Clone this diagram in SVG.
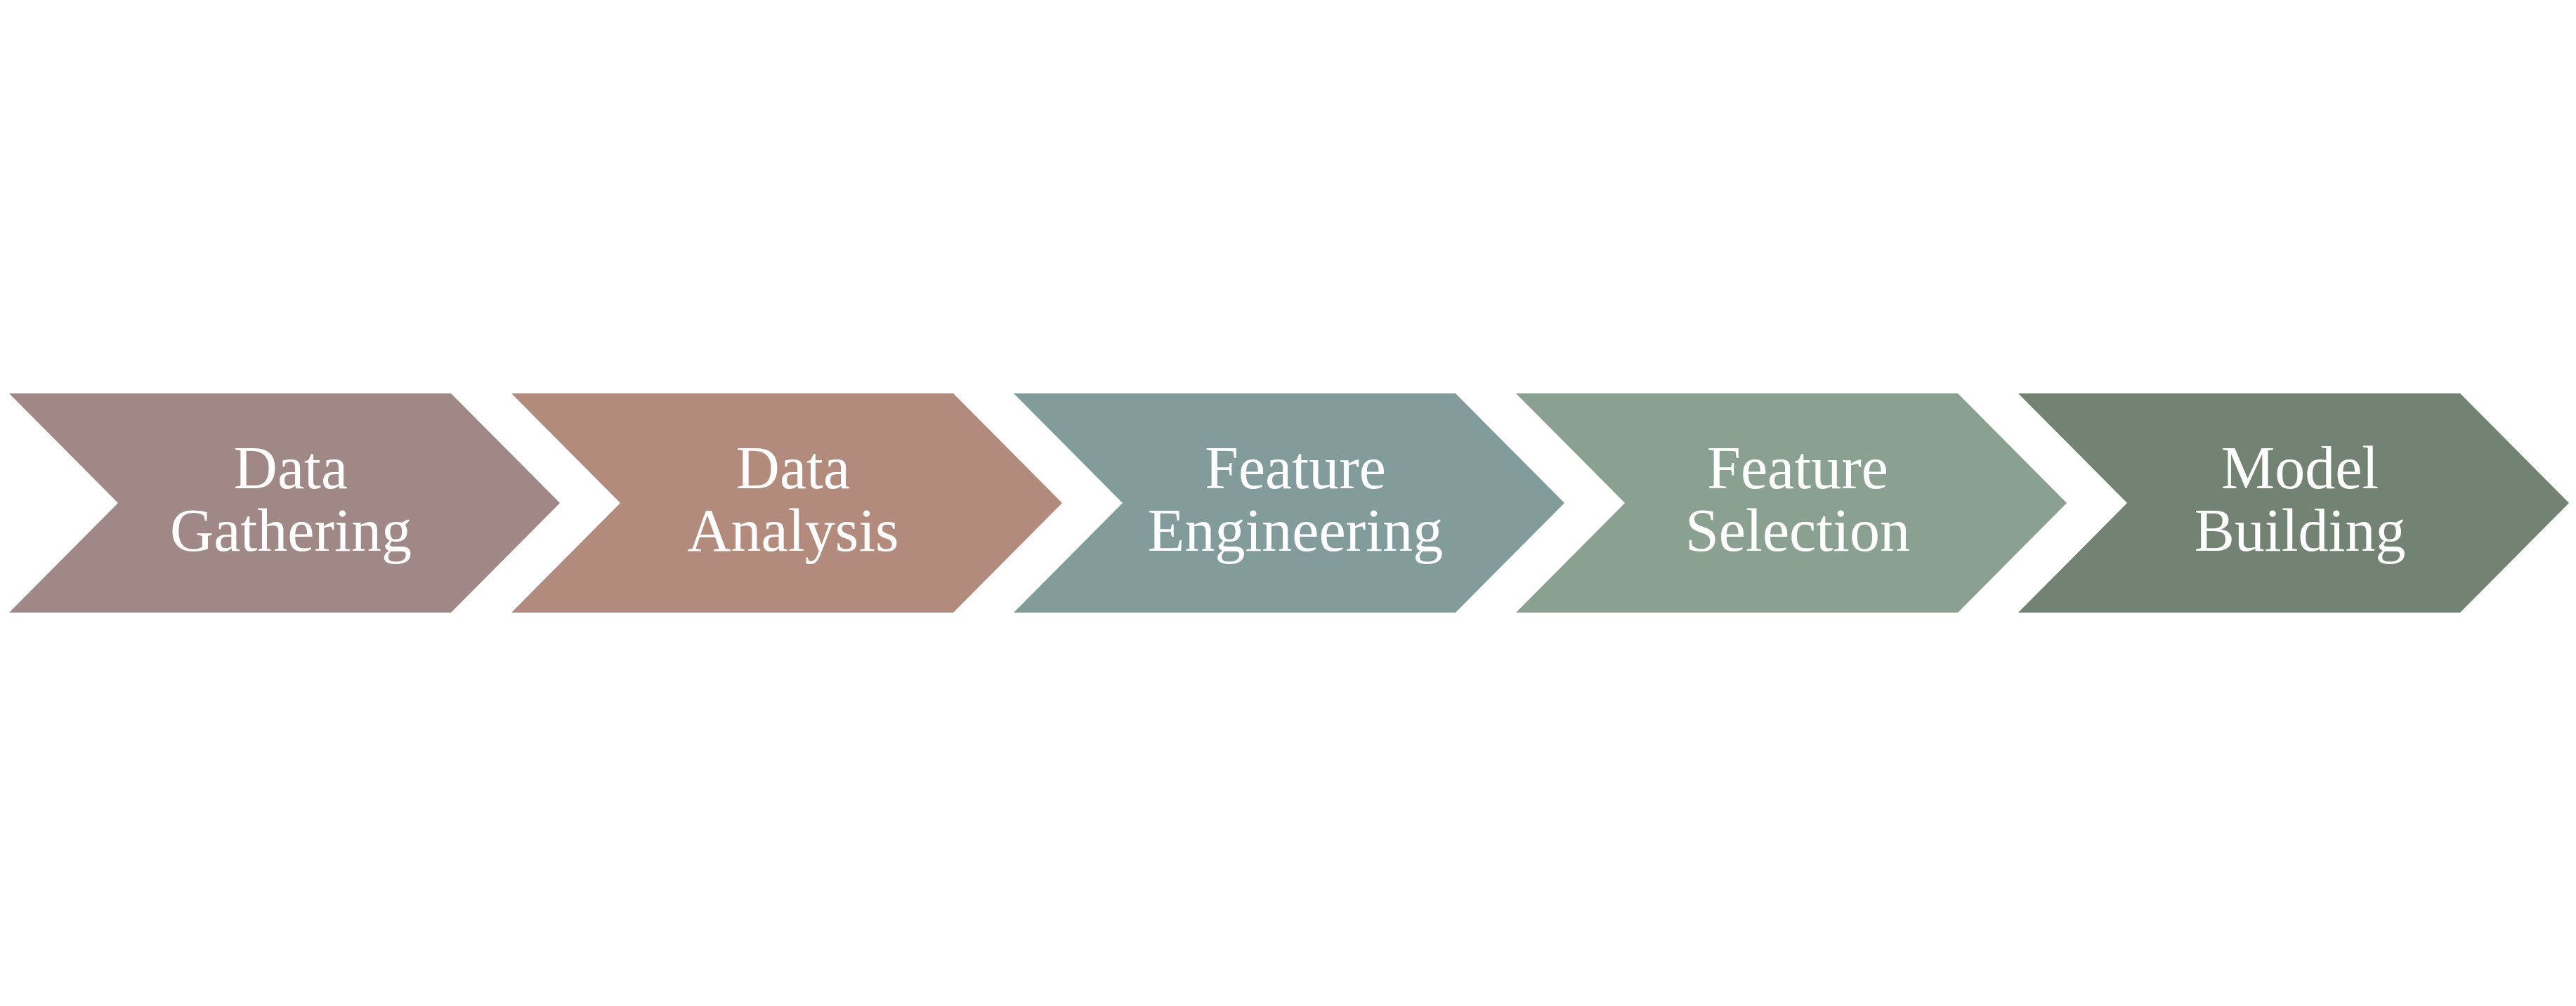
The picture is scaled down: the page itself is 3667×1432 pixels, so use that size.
<svg xmlns="http://www.w3.org/2000/svg" width="3667" height="1432" viewBox="0 0 3667 1432">
<style>
.lbl{font-family:"Liberation Serif","Times New Roman",serif;font-size:86px;fill:#ffffff;text-anchor:middle}
</style>
<defs>
<path id="chev" d="M0,560 L629,560 L784,716 L629,872 L0,872 L155,716 Z"/>
</defs>
<rect width="3667" height="1432" fill="#ffffff"/>
<g id="connectors"></g>
<g id="node1" transform="translate(13,0)">
<use href="#chev" fill="#A08887"/>
<text class="lbl" x="401" y="695">Data</text>
<text class="lbl" x="401" y="784">Gathering</text>
</g>
<g id="node2" transform="translate(728,0)">
<use href="#chev" fill="#B28B7C"/>
<text class="lbl" x="401" y="695">Data</text>
<text class="lbl" x="401" y="784">Analysis</text>
</g>
<g id="node3" transform="translate(1443,0)">
<use href="#chev" fill="#819C9B"/>
<text class="lbl" x="401" y="695">Feature</text>
<text class="lbl" x="401" y="784">Engineering</text>
</g>
<g id="node4" transform="translate(2158,0)">
<use href="#chev" fill="#8AA191"/>
<text class="lbl" x="401" y="695">Feature</text>
<text class="lbl" x="401" y="784">Selection</text>
</g>
<g id="node5" transform="translate(2873,0)">
<use href="#chev" fill="#728373"/>
<text class="lbl" x="401" y="695">Model</text>
<text class="lbl" x="401" y="784">Building</text>
</g>
</svg>
